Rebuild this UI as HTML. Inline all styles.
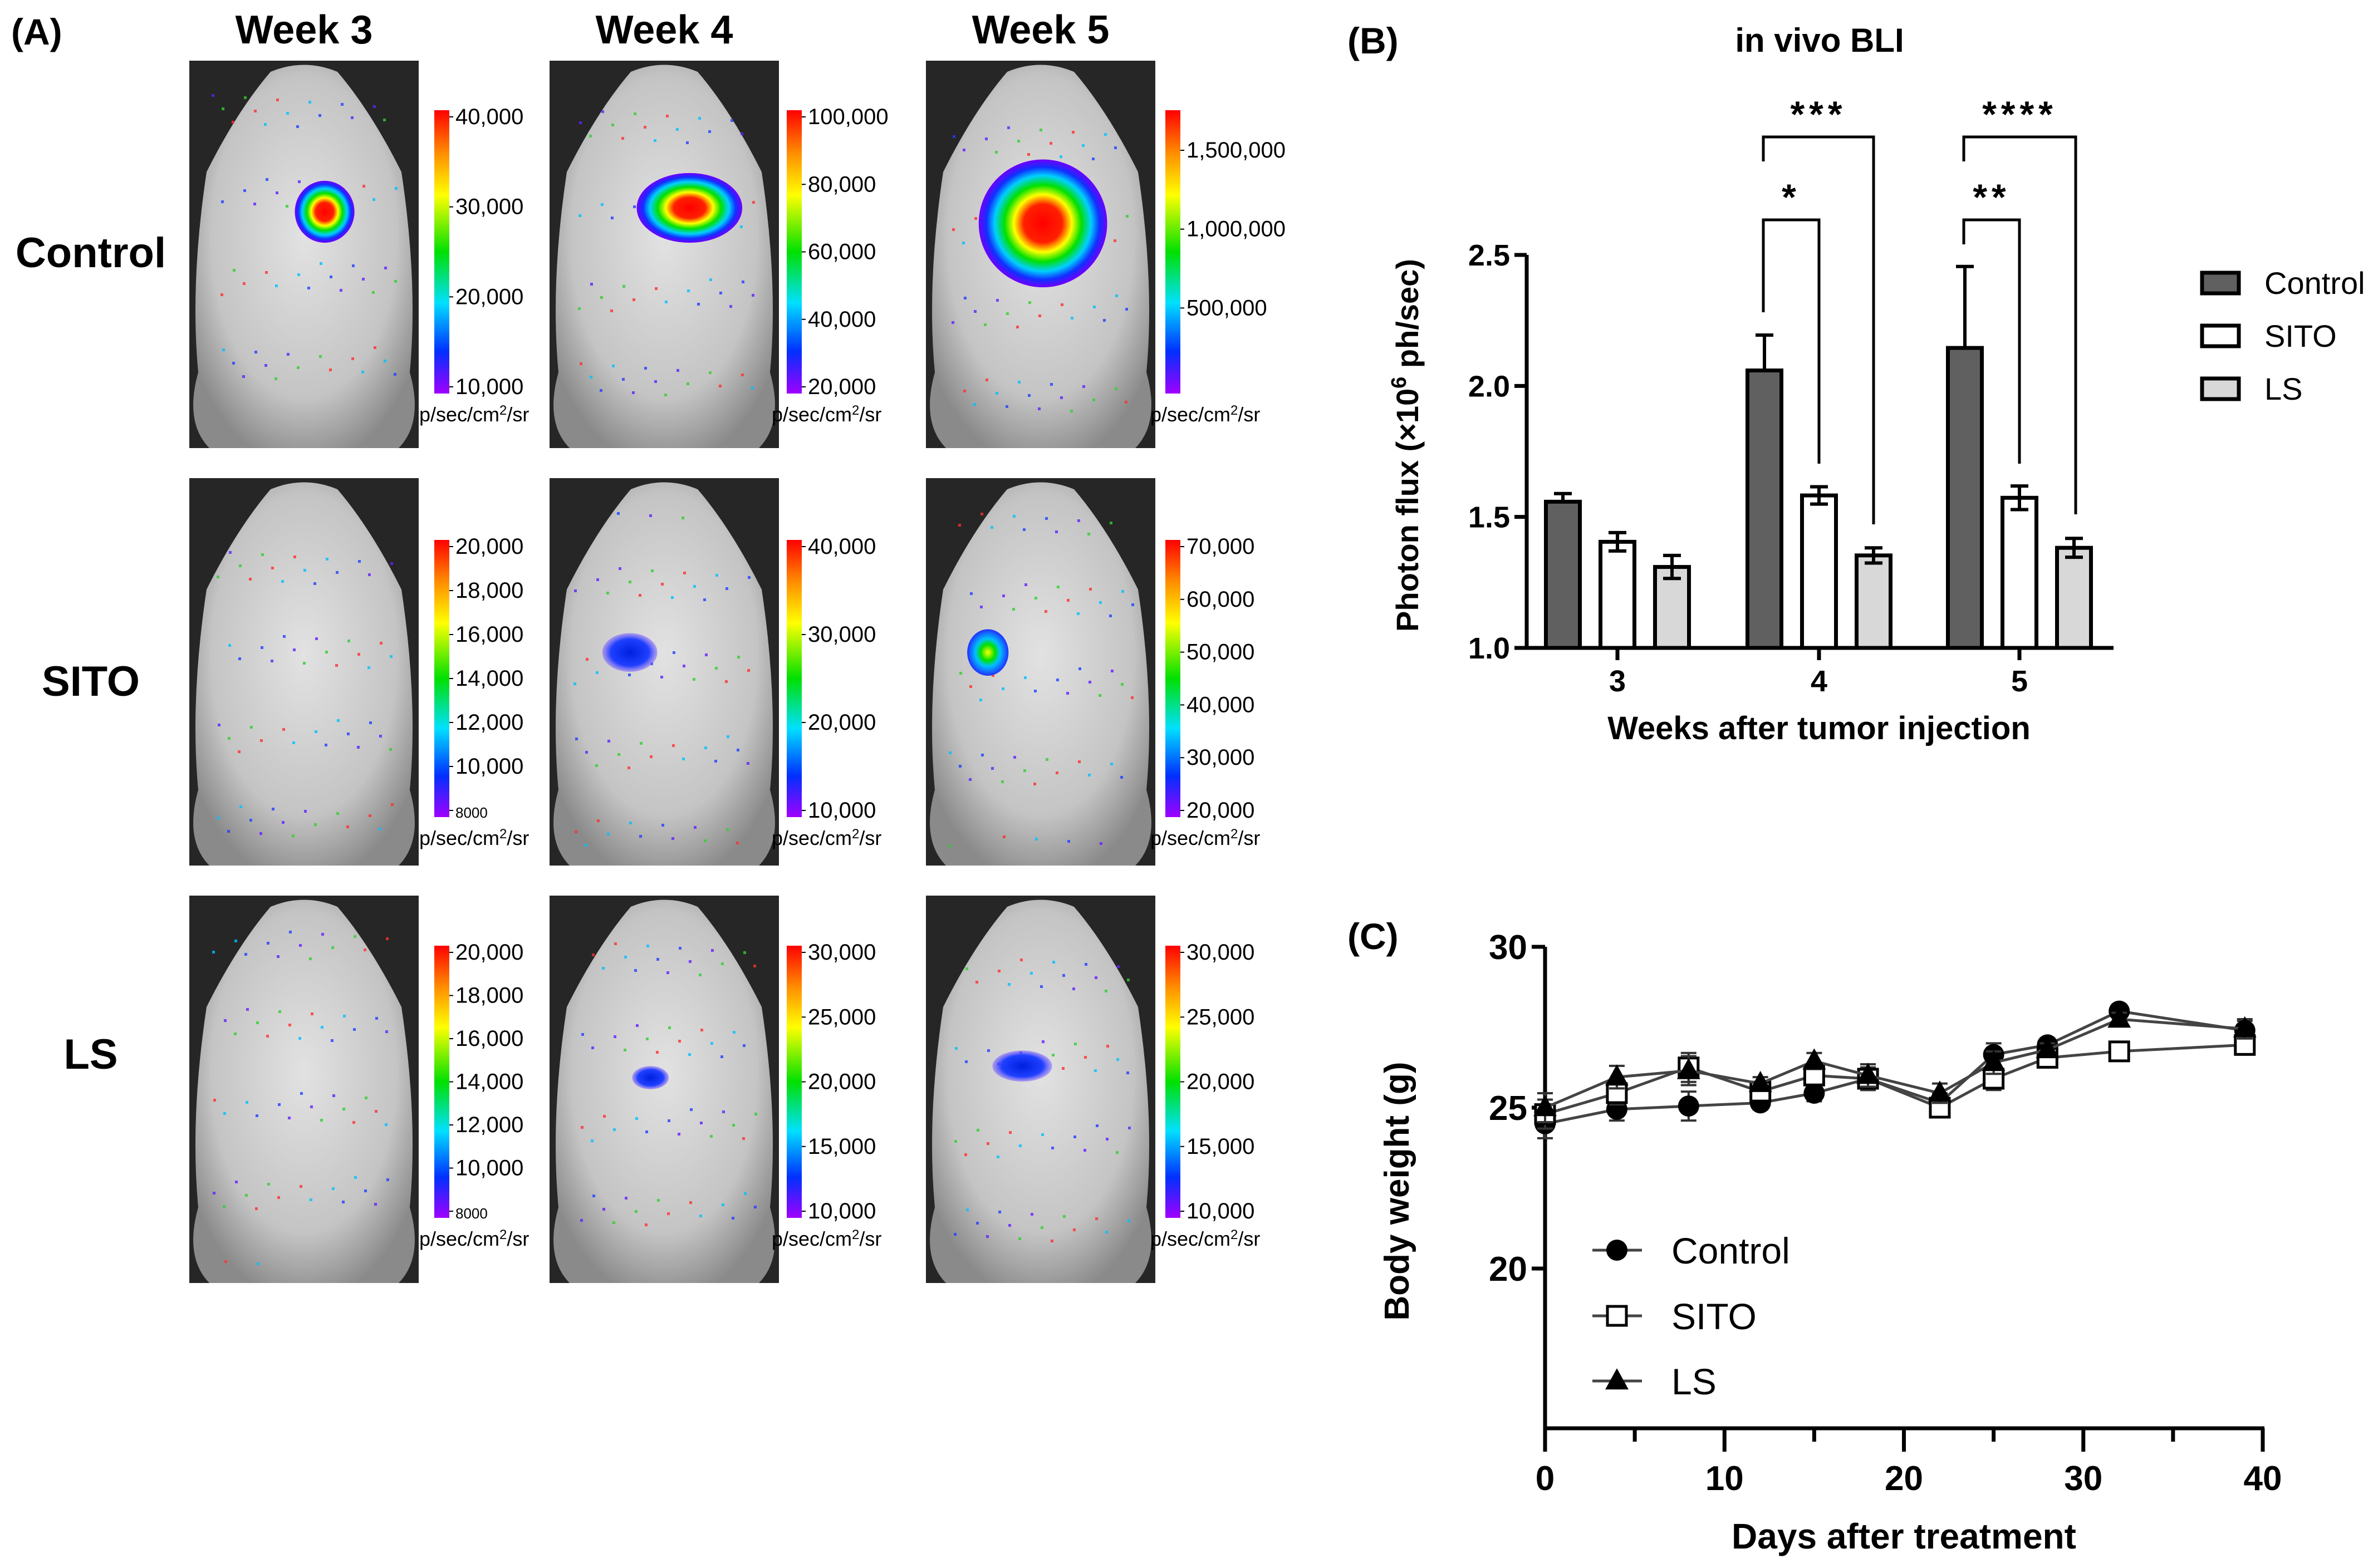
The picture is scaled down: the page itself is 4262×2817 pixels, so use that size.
<!DOCTYPE html>
<html><head><meta charset="utf-8"><style>
html,body{margin:0;padding:0;background:#fff}
svg{display:block}
text{font-family:"Liberation Sans",sans-serif}
.n{font-family:"Liberation Sans Narrow","Liberation Sans",sans-serif}
</style></head><body>
<svg id="fig" width="4262" height="2817" viewBox="0 0 4262 2817" xmlns="http://www.w3.org/2000/svg">
<defs>
<radialGradient id="mg" cx="50%" cy="45%" r="60%"><stop offset="0" stop-color="#e2e2e2"/><stop offset="0.7" stop-color="#c4c4c4"/><stop offset="1" stop-color="#8a8a8a"/></radialGradient>
<linearGradient id="cb" x1="0" y1="0" x2="0" y2="1"><stop offset="0" stop-color="#ff0000"/><stop offset="0.15" stop-color="#ff8c00"/><stop offset="0.3" stop-color="#ffff00"/><stop offset="0.5" stop-color="#00e000"/><stop offset="0.68" stop-color="#00e0ff"/><stop offset="0.85" stop-color="#0030ff"/><stop offset="1" stop-color="#a000ff"/></linearGradient>
<radialGradient id="heat" cx="50%" cy="50%" r="50%"><stop offset="0" stop-color="#ff0000"/><stop offset="0.3" stop-color="#ff2000"/><stop offset="0.45" stop-color="#ffff00"/><stop offset="0.6" stop-color="#00e000"/><stop offset="0.75" stop-color="#00d0ff"/><stop offset="0.88" stop-color="#1030ff"/><stop offset="1" stop-color="#7000ff"/></radialGradient>
<radialGradient id="heatb" cx="50%" cy="50%" r="50%"><stop offset="0" stop-color="#0020e0"/><stop offset="0.7" stop-color="#2040ff"/><stop offset="1" stop-color="#8060ff" stop-opacity="0.5"/></radialGradient>
<radialGradient id="heatc" cx="50%" cy="50%" r="50%"><stop offset="0" stop-color="#ffff00"/><stop offset="0.35" stop-color="#00e000"/><stop offset="0.6" stop-color="#00c0ff"/><stop offset="1" stop-color="#2030ff"/></radialGradient>
</defs>
<g id="panelA"></g>
<g id="panelB"></g>
<g id="panelC"></g>
</svg>
<script>
const NS="http://www.w3.org/2000/svg";
function el(tag,attrs,parent,txt){const e=document.createElementNS(NS,tag);for(const k in attrs)e.setAttribute(k,attrs[k]);if(txt!==undefined)e.textContent=txt;parent.appendChild(e);return e;}

/* ---------- Panel A ---------- */
const weekLabels=["Week 3","Week 4","Week 5"];
const groupLabels=["Control","SITO","LS"];
const colorbarTicks=[
 [["40,000","30,000","20,000","10,000"],["100,000","80,000","60,000","40,000","20,000"],["1,500,000","1,000,000","500,000",""]],
 [["20,000","18,000","16,000","14,000","12,000","10,000","8000"],["40,000","30,000","20,000","10,000"],["70,000","60,000","50,000","40,000","30,000","20,000"]],
 [["20,000","18,000","16,000","14,000","12,000","10,000","8000"],["30,000","25,000","20,000","15,000","10,000"],["30,000","25,000","20,000","15,000","10,000"]]
];
const A=document.getElementById('panelA');
const colX=[340,987,1663], imgW=412, rowY=[109,859,1609], imgH=696;
const cbX=[780,1413,2093];
let t=el('text',{x:20,y:80,'font-size':66,'font-weight':'bold'},A,'(A)');

weekLabels.forEach((w,i)=>{const e=el('text',{x:colX[i]+imgW/2,y:78,'font-size':72,'font-weight':'bold','text-anchor':'middle'},A,w);
});
const rowLabelY=[480,1250,1920];
groupLabels.forEach((g,i)=>{const e=el('text',{x:163,y:rowLabelY[i],'font-size':76,'font-weight':'bold','text-anchor':'middle'},A,g);
});
const blobs=[[0,0,0.59,0.39,0.13,0.08,'heat'],[0,1,0.61,0.38,0.23,0.09,'heat'],[0,2,0.51,0.42,0.28,0.165,'heat'],
 [1,1,0.35,0.45,0.12,0.05,'heatb'],[1,2,0.27,0.45,0.09,0.06,'heatc'],[2,1,0.44,0.47,0.08,0.03,'heatb'],[2,2,0.42,0.44,0.13,0.04,'heatb']];
for(let r=0;r<3;r++)for(let c=0;c<3;c++){
 const x=colX[c],y=rowY[r];
 const g=el('g',{},A);
 
 el('rect',{x:x,y:y,width:imgW,height:imgH,fill:'#262626'},g);
 const cx=x+imgW/2;
 const d=`M${cx-60},${y+20} Q${cx},${y-5} ${cx+60},${y+20} Q${cx+120},${y+90} ${cx+175},${y+200} Q${cx+205},${y+400} ${cx+190},${y+560} Q${cx+215},${y+650} ${cx+170},${y+imgH} L${cx-170},${y+imgH} Q${cx-215},${y+650} ${cx-190},${y+560} Q${cx-205},${y+400} ${cx-175},${y+200} Q${cx-120},${y+90} ${cx-60},${y+20} Z`;
 el('path',{d:d,fill:'url(#mg)'},g);
 for(let k=0;k<60;k++){const px=x+40+((k*97+r*31+c*53)%330),py=y+60+((k*151+r*71+c*29)%600);
  el('rect',{x:px,y:py,width:5,height:5,fill:['#6020ff','#2040ff','#00c0ff','#ff3030','#30d030'][k%5],opacity:0.8},g);}
 blobs.filter(b=>b[0]===r&&b[1]===c).forEach(b=>{
  el('ellipse',{cx:x+b[2]*imgW,cy:y+b[3]*imgH,rx:b[4]*imgW,ry:b[5]*imgH,fill:'url(#'+b[6]+')'},g);});
 const cbTop=[198,970,1699][r], cbBot=[707,1468,2188][r];
 const cbg=el('g',{},A);
 el('rect',{x:cbX[c],y:cbTop,width:27,height:cbBot-cbTop,fill:'url(#cb)'},cbg);
 const ticks=colorbarTicks[r][c];
 const t0=(r===0&&c===2)?cbTop+72:cbTop+12;
 ticks.forEach((lab,i)=>{if(!lab)return;const ty=t0+i*(cbBot-12-t0)/(ticks.length-1);
  el('line',{x1:cbX[c]+27,x2:cbX[c]+34,y1:ty,y2:ty,stroke:'#000','stroke-width':2},cbg);
  el('text',{x:cbX[c]+38,y:ty+13,'font-size':lab==='8000'?26:40},cbg,lab);});
 const u=el('text',{x:cbX[c]-27,y:cbBot+50,'font-size':36},cbg);
 u.innerHTML='p/sec/cm<tspan font-size="24" dy="-12">2</tspan><tspan dy="12">/sr</tspan>';
}

/* ---------- Panel B ---------- */
const weeks=["3","4","5"];
const ctrlVals=[1.558,2.059,2.145];
const ctrlErr=[0.031,0.135,0.311];
const sitoVals=[1.405,1.582,1.573];
const sitoErr=[0.035,0.033,0.045];
const lsVals=[1.309,1.353,1.382];
const lsErr=[0.044,0.029,0.036];
const bTicks=[1.0,1.5,2.0,2.5];
const B=document.getElementById('panelB');
const bx0=2742,bx1=3796,by0=1164,by1=458;
const bY=v=>by0-(v-1.0)/(2.5-1.0)*(by0-by1);
const groupX=[2905,3267,3627];
const barW=61, off=98;
t=el('text',{x:2420,y:96,'font-size':66,'font-weight':'bold'},B,'(B)');

t=el('text',{x:3268,y:93,'font-size':60,'font-weight':'bold','text-anchor':'middle'},B,'in vivo BLI');

const series=[[ctrlVals,ctrlErr,'#606060','Control'],[sitoVals,sitoErr,'#ffffff','SITO'],[lsVals,lsErr,'#d8d8d8','LS']];
series.forEach((s,si)=>{s[0].forEach((v,gi)=>{
 const cx=groupX[gi]+(si-1)*off;
 const top=bY(v);
 const r=el('rect',{x:cx-barW/2,y:top,width:barW,height:by0-top,fill:s[2],stroke:'#000','stroke-width':7},B);
 
 const eh=bY(v+s[1][gi]), el_=bY(v-s[1][gi]);
 const eg=el('g',{stroke:'#000','stroke-width':6},B);
 el('line',{x1:cx,x2:cx,y1:eh,y2:si===0?top:el_},eg);
 el('line',{x1:cx-16,x2:cx+16,y1:eh,y2:eh},eg);
 if(si>0)el('line',{x1:cx-16,x2:cx+16,y1:el_,y2:el_},eg);
});});
let ax=el('g',{stroke:'#000','stroke-width':7,fill:'none'},B);
el('line',{x1:bx0,x2:bx0,y1:by1,y2:by0+3},ax);
bTicks.forEach(v=>{el('line',{x1:bx0-22,x2:bx0,y1:bY(v),y2:bY(v)},ax);
 const tt=el('text',{x:bx0-30,y:bY(v)+19,'font-size':54,'font-weight':'bold','text-anchor':'end',stroke:'none',fill:'#000',class:'n'},B,v.toFixed(1));
 });
ax=el('g',{stroke:'#000','stroke-width':7},B);
el('line',{x1:bx0,x2:bx1,y1:by0,y2:by0},ax);
weeks.forEach((w,i)=>{el('line',{x1:groupX[i],x2:groupX[i],y1:by0,y2:by0+22},ax);
 const tt=el('text',{x:groupX[i],y:1242,'font-size':54,'font-weight':'bold','text-anchor':'middle',class:'n'},B,w);
 });
t=el('text',{x:3267,y:1328,'font-size':58,'font-weight':'bold','text-anchor':'middle',class:'n'},B,'Weeks after tumor injection');

t=el('text',{x:0,y:0,'font-size':56,'font-weight':'bold','text-anchor':'middle',transform:'translate(2547,800) rotate(-90)'},B);
t.innerHTML='Photon flux (×10<tspan font-size="38" dy="-22">6</tspan><tspan dy="22"> ph/sec)</tspan>';

const brk=[[3167,3365,246,290,942,'***'],[3167,3267,395,561,833,'*'],[3527,3728,246,290,924,'****'],[3527,3627,395,439,833,'**']];
brk.forEach(b=>{const g=el('g',{},B);
 el('path',{d:`M${b[0]},${b[3]} L${b[0]},${b[2]} L${b[1]},${b[2]} L${b[1]},${b[4]}`,fill:'none',stroke:'#000','stroke-width':5},g);
 el('text',{x:(b[0]+b[1])/2,y:b[2]-18,'font-size':66,'font-weight':'bold','text-anchor':'middle','letter-spacing':8},g,b[5]);});
const legY=[490,585,680];
series.forEach((s,i)=>{const g=el('g',{},B);
 el('rect',{x:3955,y:legY[i],width:66,height:37,fill:s[2],stroke:'#000','stroke-width':7},g);
 el('text',{x:4067,y:legY[i]+38,'font-size':56,class:'n'},g,s[3]);});

/* ---------- Panel C ---------- */
const days=[0,4,8,12,15,18,22,25,28,32,39];
const ctrlW=[24.5,24.95,25.05,25.15,25.45,25.9,25.15,26.65,26.95,28.0,27.4];
const sitoW=[24.8,25.45,26.25,25.5,26.0,25.9,25.0,25.9,26.55,26.75,26.95];
const lsW=[25.0,25.95,26.15,25.75,26.45,26.0,25.45,26.4,26.8,27.75,27.45];
const wErr=[0.45,0.35,0.45,0.2,0.25,0.35,0.3,0.35,0.2,0.2,0.3];
const cXT=[0,10,20,30,40];
const cYT=[20,25,30];
const C=document.getElementById('panelC');
const cx0=2775,cx1=4064,cy30=1701,cy20=2279,cyb=2566;
const cX=d=>cx0+d/40*(cx1-cx0);
const cY=v=>cy20-(v-20)/10*(cy20-cy30);
t=el('text',{x:2420,y:1705,'font-size':66,'font-weight':'bold'},C,'(C)');

ax=el('g',{stroke:'#000','stroke-width':7},C);
el('line',{x1:cx0,x2:cx0,y1:cy30,y2:cyb},ax);
cYT.forEach(v=>{el('line',{x1:cx0-24,x2:cx0,y1:cY(v),y2:cY(v)},ax);
 const tt=el('text',{x:cx0-32,y:cY(v)+22,'font-size':62,'font-weight':'bold','text-anchor':'end',class:'n',stroke:'none'},C,String(v));
 });
ax=el('g',{stroke:'#000','stroke-width':7},C);
el('line',{x1:cx0,x2:cx1+3,y1:cyb,y2:cyb},ax);
for(let d=0;d<=40;d+=5)el('line',{x1:cX(d),x2:cX(d),y1:cyb,y2:cyb+(d%10===0?42:24)},ax);
cXT.forEach(d=>{const tt=el('text',{x:cX(d),y:2677,'font-size':62,'font-weight':'bold','text-anchor':'middle',class:'n'},C,String(d));
 });
t=el('text',{x:cX(20),y:2782,'font-size':64,'font-weight':'bold','text-anchor':'middle',class:'n'},C,'Days after treatment');

t=el('text',{x:0,y:0,'font-size':62,'font-weight':'bold','text-anchor':'middle',transform:'translate(2530,2140) rotate(-90)'},C,'Body weight (g)');

function marker(g,type,x,y,s){
 if(type==='circle')el('circle',{cx:x,cy:y,r:s,fill:'#000'},g);
 else if(type==='square')el('rect',{x:x-s,y:y-s,width:2*s,height:2*s,fill:'#fff',stroke:'#000','stroke-width':5},g);
 else el('path',{d:`M${x},${y-s*1.2} L${x+s*1.1},${y+s*0.8} L${x-s*1.1},${y+s*0.8} Z`,fill:'#000'},g);
}
const cSeries=[[ctrlW,'circle','Control'],[sitoW,'square','SITO'],[lsW,'triangle','LS']];
cSeries.forEach(s=>{const g=el('g',{},C);
 el('polyline',{points:days.map((d,i)=>cX(d)+','+cY(s[0][i])).join(' '),fill:'none',stroke:'#444','stroke-width':5},g);
 days.forEach((d,i)=>{const x=cX(d),y=cY(s[0][i]),e=wErr[i];
  el('line',{x1:x,x2:x,y1:cY(s[0][i]+e),y2:cY(s[0][i]-e),stroke:'#333','stroke-width':4},g);
  el('line',{x1:x-14,x2:x+14,y1:cY(s[0][i]+e),y2:cY(s[0][i]+e),stroke:'#333','stroke-width':4},g);
  el('line',{x1:x-14,x2:x+14,y1:cY(s[0][i]-e),y2:cY(s[0][i]-e),stroke:'#333','stroke-width':4},g);
  marker(g,s[1],x,y,s[1]==='square'?17:19);});
});
const cLegY=[2246,2364,2481];
cSeries.forEach((s,i)=>{const g=el('g',{},C);
 el('line',{x1:2860,x2:2949,y1:cLegY[i],y2:cLegY[i],stroke:'#444','stroke-width':5},g);
 marker(g,s[1],2904,cLegY[i],s[1]==='square'?17:19);
 el('text',{x:3002,y:cLegY[i]+24,'font-size':66,class:'n'},g,s[2]);});
</script>
</body></html>
